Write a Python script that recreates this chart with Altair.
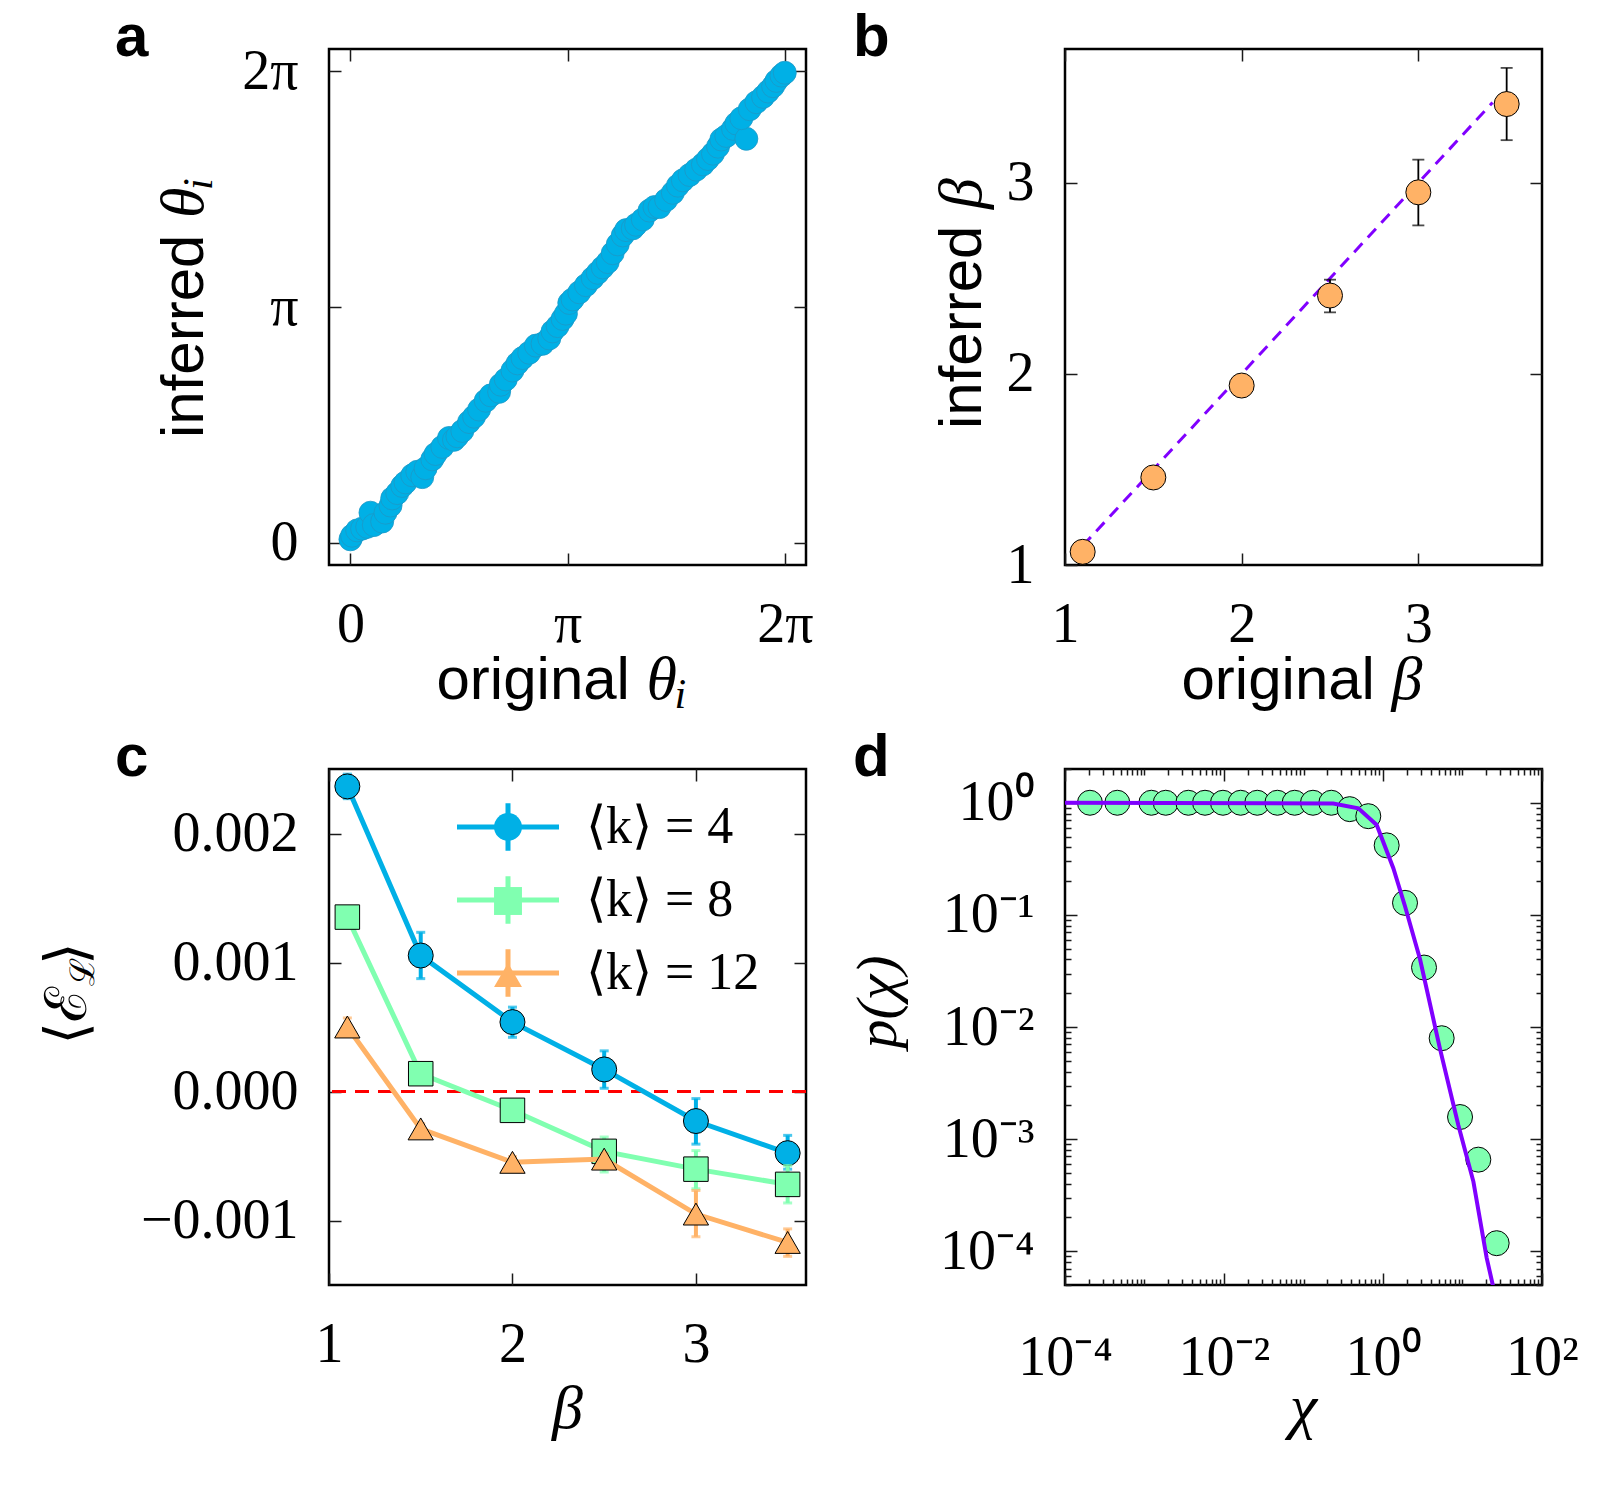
import math
import altair as alt
import pandas as pd

SERIF = "Liberation Serif"
SANS = "Liberation Sans"
MATH = "DejaVu Serif"

W, H = 477, 516
TMAJ, TMIN = 12, 6
LBL = 56
TTL = 60

BLUE = "#00B0E6"
BLUE_EDGE = "#1C98C6"
GREEN = "#80FFB0"
ORANGE = "#FFB266"
PURPLE = "#8000FF"
RED = "#FF0000"

ONE = pd.DataFrame({"o": [0]})

# ---------------- panel a data ----------------
theta_orig = [0.000, 0.024, 0.097, 0.169, 0.242, 0.290, 0.338, 0.459, 0.507, 0.580,
              0.604, 0.677, 0.749, 0.797, 0.894, 0.967, 1.039, 1.087, 1.184, 1.232,
              1.329, 1.426, 1.498, 1.547, 1.619, 1.716, 1.788, 1.861, 1.957, 2.030,
              2.151, 2.175, 2.247, 2.344, 2.417, 2.489, 2.586, 2.683, 2.779, 2.876,
              2.924, 2.997, 3.069, 3.117, 3.166, 3.214, 3.311, 3.407, 3.504, 3.577,
              3.649, 3.722, 3.794, 3.867, 3.939, 3.987, 4.084, 4.132, 4.229, 4.326,
              4.398, 4.471, 4.567, 4.664, 4.737, 4.809, 4.906, 5.002, 5.099, 5.172,
              5.244, 5.317, 5.365, 5.437, 5.534, 5.582, 5.727, 5.655, 5.776, 5.872,
              5.969, 6.042, 6.114, 6.162, 6.235, 6.283]
theta_inf = [0.047, 0.095, 0.166, 0.189, 0.213, 0.402, 0.237, 0.284, 0.402, 0.497,
             0.592, 0.663, 0.758, 0.805, 0.900, 0.947, 0.876, 0.994, 1.113, 1.184,
             1.278, 1.397, 1.373, 1.420, 1.491, 1.610, 1.681, 1.776, 1.894, 1.965,
             2.012, 2.107, 2.178, 2.296, 2.391, 2.462, 2.533, 2.628, 2.652, 2.723,
             2.817, 2.888, 2.983, 3.054, 3.196, 3.243, 3.338, 3.433, 3.527, 3.598,
             3.669, 3.741, 3.859, 3.977, 4.096, 4.167, 4.190, 4.238, 4.309, 4.427,
             4.474, 4.474, 4.569, 4.664, 4.759, 4.830, 4.901, 4.972, 5.043, 5.114,
             5.185, 5.279, 5.374, 5.421, 5.516, 5.587, 5.384, 5.658, 5.777, 5.871,
             5.942, 6.013, 6.084, 6.155, 6.226, 6.264]

# ---------------- panel b data ----------------
beta_orig = [1.1, 1.5, 2.0, 2.5, 3.0, 3.5]
beta_inf = [1.069, 1.458, 1.939, 2.410, 2.950, 3.412]
beta_lo = [1.055, 1.445, 1.925, 2.322, 2.777, 3.223]
beta_hi = [1.083, 1.471, 1.953, 2.493, 3.121, 3.601]
diag_x = [1.1, 3.42]
diag_y = [1.1, 3.42]

# ---------------- panel c data ----------------
c_beta = [1.1, 1.5, 2.0, 2.5, 3.0, 3.5]
k_labels = ["⟨k⟩ = 4", "⟨k⟩ = 8", "⟨k⟩ = 12"]
k_keys = ["k4", "k8", "k12"]
E4 = [0.002365, 0.001054, 0.000538, 0.000171, -0.000229, -0.000478]
E4_lo = [0.00227, 0.000875, 0.00042, 0.000025, -0.000408, -0.000602]
E4_hi = [0.00246, 0.001234, 0.000654, 0.000315, -0.000055, -0.00034]
E8 = [0.001352, 0.000138, -0.000146, -0.000464, -0.000602, -0.00072]
E8_lo = [0.0013, 0.00009, -0.00019, -0.000624, -0.000754, -0.000864]
E8_hi = [0.0014, 0.00019, -0.0001, -0.000353, -0.000458, -0.000574]
E12 = [0.0005, -0.00029, -0.000549, -0.000524, -0.00095, -0.00117]
E12_lo = [0.00045, -0.00033, -0.00059, -0.00057, -0.001126, -0.001278]
E12_hi = [0.00057, -0.00025, -0.000505, -0.00048, -0.000767, -0.001065]

# ---------------- panel d data ----------------
chi = [2.06e-4, 4.55e-4, 1.22e-3, 1.85e-3, 3.56e-3, 5.77e-3, 9.70e-3, 1.62e-2,
       2.62e-2, 4.69e-2, 7.74e-2, 0.1315, 0.224, 0.381, 0.653, 1.112, 1.892,
       3.281, 5.47, 9.31, 15.81, 26.9]
p_chi = [1.0, 1.0, 1.0, 1.0, 1.0, 1.0, 1.0, 1.0, 1.0, 1.0, 1.0, 1.0, 1.0,
         0.877, 0.759, 0.417, 0.128, 0.0339, 0.00794, 0.001574, 0.000656, 0.000118]
fit_chi = [1e-4, 0.237, 0.490, 0.834, 1.349, 1.892, 2.924, 5.212, 8.87, 13.71, 20.14, 25.1]
fit_p = [1.0, 0.986, 0.891, 0.634, 0.261, 0.1194, 0.0402, 0.00638, 0.00133,
         0.000418, 8.73e-5, 4.37e-5]

# ---------------- helpers ----------------
PI = math.pi
PI_VALUES = [0.0, PI, 2 * PI]
PI_EXPR = "datum.value < 1 ? '0' : (datum.value < 4 ? 'π' : '2π')"


def pow_expr(exps):
    sup = str.maketrans("-0123456789", "⁻⁰¹²³⁴⁵⁶⁷⁸⁹")
    e = "round(log(datum.value)/LN10)"
    expr = "''"
    for k in exps:
        expr = f"({e} == {k}) ? '10{str(k).translate(sup)}' : ({expr})"
    return expr


def axis(orient, values, size=TMAJ, labels=True, pad=0, label_expr=None, fmt=None):
    kw = dict(orient=orient, values=values, tickSize=size, offset=-size, domain=False,
              grid=False, ticks=True, tickColor="#1a1a1a", tickWidth=1.5,
              labels=labels, title=None)
    if labels:
        kw.update(labelFont=SERIF, labelFontSize=LBL, labelColor="black",
                  labelFlush=False, labelOverlap=False, labelPadding=pad)
        if orient == "bottom":
            kw["labelBaseline"] = "alphabetic"
        if label_expr:
            kw["labelExpr"] = label_expr
        if fmt:
            kw["format"] = fmt
    return alt.Axis(**kw)


def txt(s, x, y, size, font=SANS, style="normal", weight="normal", angle=0, align="left"):
    return alt.Chart(ONE).mark_text(
        text=s, font=font, fontSize=size, fontStyle=style, fontWeight=weight,
        angle=angle, align=align, baseline="alphabetic", color="black"
    ).encode(x=alt.value(x), y=alt.value(y))


CX, CY = W / 2, H / 2
PANEL_Y = 7

# ---------------- panel a ----------------
df_a = pd.DataFrame({"x": theta_orig, "y": theta_inf})
xs_a = alt.Scale(domain=[-0.31, 6.59], nice=False, zero=False)
ys_a = alt.Scale(domain=[-0.295, 6.58], nice=False, zero=False)
a_mirror = alt.Chart(df_a).mark_point(opacity=0).encode(
    x=alt.X("x:Q", scale=xs_a, axis=axis("top", PI_VALUES, labels=False)),
    y=alt.Y("y:Q", scale=ys_a, axis=axis("right", PI_VALUES, labels=False)))
a_pts = alt.Chart(df_a).mark_point(
    filled=True, shape="circle", size=530, fill=BLUE, stroke=BLUE_EDGE,
    strokeWidth=0.8, opacity=1
).encode(
    x=alt.X("x:Q", scale=xs_a, axis=axis("bottom", PI_VALUES, pad=76, label_expr=PI_EXPR)),
    y=alt.Y("y:Q", scale=ys_a, axis=axis("left", PI_VALUES, pad=31, label_expr=PI_EXPR)))
anchor = alt.Chart(ONE).mark_point(shape="square", size=1, filled=True, opacity=0).encode(
    x=alt.value(-326.5), y=alt.value(-46.5))
a_txt = [
    txt("a", -214, PANEL_Y, 60, weight="bold"),
    txt("original", CX - 131, H + 134, TTL),
    txt("θ", CX + 79, H + 134, 62, font=SERIF, style="italic"),
    txt("i", CX + 107, H + 143, 42, font=SERIF, style="italic"),
    txt("inferred", -126.5, CY + 131, TTL, angle=270),
    txt("θ", -126.5, CY - 89, 62, font=SERIF, style="italic", angle=270),
    txt("i", -117.5, CY - 117, 42, font=SERIF, style="italic", angle=270),
]
A = alt.layer(anchor, a_mirror, a_pts, *a_txt).resolve_axis(
    x="independent", y="independent").properties(width=W, height=H)

# ---------------- panel b ----------------
df_b = pd.DataFrame({"x": beta_orig, "y": beta_inf, "lo": beta_lo, "hi": beta_hi})
df_bl = pd.DataFrame({"x": diag_x, "y": diag_y})
xs_b = alt.Scale(domain=[1.0, 3.7], nice=False, zero=False)
ys_b = alt.Scale(domain=[1.0, 3.7], nice=False, zero=False)
B_VALS = [1, 2, 3]
b_line = alt.Chart(df_bl).mark_line(color=PURPLE, strokeWidth=3, strokeDash=[12, 8]).encode(
    x=alt.X("x:Q", scale=xs_b, axis=axis("top", B_VALS, labels=False)),
    y=alt.Y("y:Q", scale=ys_b, axis=axis("right", B_VALS, labels=False)))
b_err = alt.Chart(df_b).mark_rule(color="black", strokeWidth=1.8).encode(
    x=alt.X("x:Q", scale=xs_b, axis=None),
    y=alt.Y("lo:Q", scale=ys_b, axis=None), y2="hi:Q")
b_cap_lo = alt.Chart(df_b).mark_tick(color="black", orient="horizontal", size=12, thickness=1.8).encode(
    x=alt.X("x:Q", scale=xs_b, axis=None), y=alt.Y("lo:Q", scale=ys_b, axis=None))
b_cap_hi = alt.Chart(df_b).mark_tick(color="black", orient="horizontal", size=12, thickness=1.8).encode(
    x=alt.X("x:Q", scale=xs_b, axis=None), y=alt.Y("hi:Q", scale=ys_b, axis=None))
b_pts = alt.Chart(df_b).mark_point(
    filled=True, shape="circle", size=625, fill=ORANGE, stroke="black", strokeWidth=1, opacity=1
).encode(
    x=alt.X("x:Q", scale=xs_b, axis=axis("bottom", B_VALS, pad=76, fmt="d")),
    y=alt.Y("y:Q", scale=ys_b, axis=axis("left", B_VALS, pad=31, fmt="d")))
b_txt = [
    txt("b", -212, PANEL_Y, 60, weight="bold"),
    txt("original", CX - 122, H + 134, TTL),
    txt("β", CX + 88, H + 134, 62, font=SERIF, style="italic"),
    txt("inferred", -84, CY + 122, TTL, angle=270),
    txt("β", -84, CY - 98, 62, font=SERIF, style="italic", angle=270),
]
B = alt.layer(b_line, b_err, b_cap_lo, b_cap_hi, b_pts, *b_txt).resolve_axis(
    x="independent", y="independent").properties(width=W, height=H)

# ---------------- panel c ----------------
rows = []
for lab, key, ev, lo, hi in zip(k_labels, k_keys, [E4, E8, E12], [E4_lo, E8_lo, E12_lo], [E4_hi, E8_hi, E12_hi]):
    for b, e, l, h in zip(c_beta, ev, lo, hi):
        rows.append({"s": key, "sl": lab, "b": b, "e": e, "lo": l, "hi": h})
df_c = pd.DataFrame(rows)
xs_c = alt.Scale(domain=[1.0, 3.6], nice=False, zero=False)
ys_c = alt.Scale(domain=[-0.0015, 0.0025], nice=False, zero=False)
C_XV = [1, 2, 3]
C_YV = [-0.001, 0.0, 0.001, 0.002]
COLS = [BLUE, GREEN, ORANGE]
SHAPES = ["circle", "square", "triangle-up"]
SIZES = [625, 600, 640]
col_scale = alt.Scale(domain=k_labels, range=COLS)
fill_scale = alt.Scale(domain=k_keys, range=COLS)
shape_scale = alt.Scale(domain=k_keys, range=SHAPES)

# legends live in the root group: panel c sits H + SPY below panel a
SPX = 259
SPY = 204
LEG_X = 153
LEG_Y = H + SPY + 32
LEG_COMMON = dict(orient="none", legendX=LEG_X, legendY=LEG_Y, title=None,
                  labelFont=SERIF, labelFontSize=52, labelLimit=400, padding=0)
LEG1 = alt.Legend(symbolType="M-4.08,0H4.08M0,-1.9V1.9", symbolSize=625, symbolStrokeWidth=5,
                  labelColor="black", labelOffset=52, rowPadding=5, **LEG_COMMON)
LEG2 = alt.Legend(symbolSize=780, symbolStrokeColor="black", symbolStrokeWidth=1,
                  labelOpacity=0, labelExpr="' '", labelOffset=0, rowPadding=22,
                  **LEG_COMMON)

c_mirror = alt.Chart(df_c).mark_point(opacity=0).encode(
    x=alt.X("b:Q", scale=xs_c, axis=axis("top", C_XV, labels=False)),
    y=alt.Y("e:Q", scale=ys_c, axis=axis("right", C_YV, labels=False)))
c_zero = alt.Chart(ONE).mark_rule(color=RED, strokeWidth=3, strokeDash=[14, 9]).encode(
    y=alt.Y(datum=0, scale=ys_c, axis=None))
c_layers = [c_mirror, c_zero]
for i, key in enumerate(k_keys):
    src = alt.Chart(df_c).transform_filter(alt.datum.s == key)
    xa = axis("bottom", C_XV, pad=76, fmt="d") if i == 0 else None
    ya = axis("left", C_YV, pad=31, fmt=".3f") if i == 0 else None
    c_layers.append(src.mark_rule(color=COLS[i], strokeWidth=4).encode(
        x=alt.X("b:Q", scale=xs_c, axis=None),
        y=alt.Y("lo:Q", scale=ys_c, axis=None), y2="hi:Q"))
    for fld in ["lo", "hi"]:
        c_layers.append(src.mark_tick(color=COLS[i], orient="horizontal", size=9, thickness=3).encode(
            x=alt.X("b:Q", scale=xs_c, axis=None),
            y=alt.Y(f"{fld}:Q", scale=ys_c, axis=None)))
    c_layers.append(src.mark_line(strokeWidth=5).encode(
        x=alt.X("b:Q", scale=xs_c, axis=xa),
        y=alt.Y("e:Q", scale=ys_c, axis=ya),
        color=alt.Color("sl:N", scale=col_scale, legend=LEG1)))
    c_layers.append(src.mark_point(filled=True, size=SIZES[i], stroke="black", strokeWidth=1, opacity=1).encode(
        x=alt.X("b:Q", scale=xs_c, axis=None),
        y=alt.Y("e:Q", scale=ys_c, axis=None),
        fill=alt.Fill("s:N", scale=fill_scale, legend=LEG2),
        shape=alt.Shape("s:N", scale=shape_scale, legend=LEG2)))
c_txt = [
    txt("c", -214, PANEL_Y, 60, weight="bold"),
    txt("β", CX, H + 143, 62, font=SERIF, style="italic", align="center"),
    txt("⟨ℰ", -243.5, CY - 40, 58, font=MATH, angle=270, align="right"),
    txt("ℒ", -235, CY - 41, 34, font=MATH, angle=270, align="left"),
    txt("⟩", -243.5, CY - 62, 58, font=MATH, angle=270, align="left"),
]
C = alt.layer(*c_layers, *c_txt).resolve_axis(
    x="independent", y="independent").properties(width=W, height=H)

# ---------------- panel d ----------------
df_d = pd.DataFrame({"x": chi, "y": p_chi})
df_dl = pd.DataFrame({"x": fit_chi, "y": fit_p})
xs_d = alt.Scale(type="log", domain=[1e-4, 100], nice=False)
ys_d = alt.Scale(type="log", domain=[5e-5, 2], nice=False)
DX_MAJ = [1e-4, 1e-2, 1.0, 100.0]
DY_MAJ = [1e-4, 1e-3, 1e-2, 1e-1, 1.0]
DX_MIN = [m * 10.0 ** d for d in range(-4, 2) for m in range(1, 10)
          if not (m == 1 and d in (-4, -2, 0))]
DY_MIN = [m * 10.0 ** d for d in range(-5, 1) for m in range(2, 10)
          if 5e-5 <= m * 10.0 ** d <= 2.0001]
d_inv1 = alt.Chart(df_d).mark_point(opacity=0).encode(
    x=alt.X("x:Q", scale=xs_d, axis=axis("top", DX_MAJ, labels=False)),
    y=alt.Y("y:Q", scale=ys_d, axis=axis("right", DY_MAJ, labels=False)))
d_inv2 = alt.Chart(df_d).mark_point(opacity=0).encode(
    x=alt.X("x:Q", scale=xs_d, axis=axis("top", DX_MIN, size=TMIN, labels=False)),
    y=alt.Y("y:Q", scale=ys_d, axis=axis("right", DY_MIN, size=TMIN, labels=False)))
d_pts = alt.Chart(df_d).mark_point(
    filled=True, shape="circle", size=625, fill=GREEN, stroke="black", strokeWidth=1, opacity=1
).encode(
    x=alt.X("x:Q", scale=xs_d, axis=axis("bottom", DX_MAJ, pad=89, label_expr=pow_expr([-4, -2, 0, 2]))),
    y=alt.Y("y:Q", scale=ys_d, axis=axis("left", DY_MAJ, pad=31, label_expr=pow_expr([-4, -3, -2, -1, 0]))))
d_line = alt.Chart(df_dl).mark_line(color=PURPLE, strokeWidth=4, clip=True).encode(
    x=alt.X("x:Q", scale=xs_d, axis=axis("bottom", DX_MIN, size=TMIN, labels=False)),
    y=alt.Y("y:Q", scale=ys_d, axis=axis("left", DY_MIN, size=TMIN, labels=False)))
d_txt = [
    txt("d", -212, PANEL_Y, 60, weight="bold"),
    txt("χ", CX, H + 142, 62, font=SERIF, style="italic", align="center"),
    txt("p(χ)", -169, CY - 25, 58, font=SERIF, style="italic", angle=270, align="center"),
]
D = alt.layer(d_inv1, d_inv2, d_pts, d_line, *d_txt).resolve_axis(
    x="independent", y="independent").properties(width=W, height=H)

# ---------------- layout ----------------
chart = alt.concat(A, B, C, D, columns=2, spacing={"row": SPY, "column": SPX},
                   bounds="flush").properties(
    padding=0, background="white"
).configure_view(stroke="black", strokeWidth=2.5)

chart.save("out.html", embed_options={"renderer": "svg", "actions": False})
